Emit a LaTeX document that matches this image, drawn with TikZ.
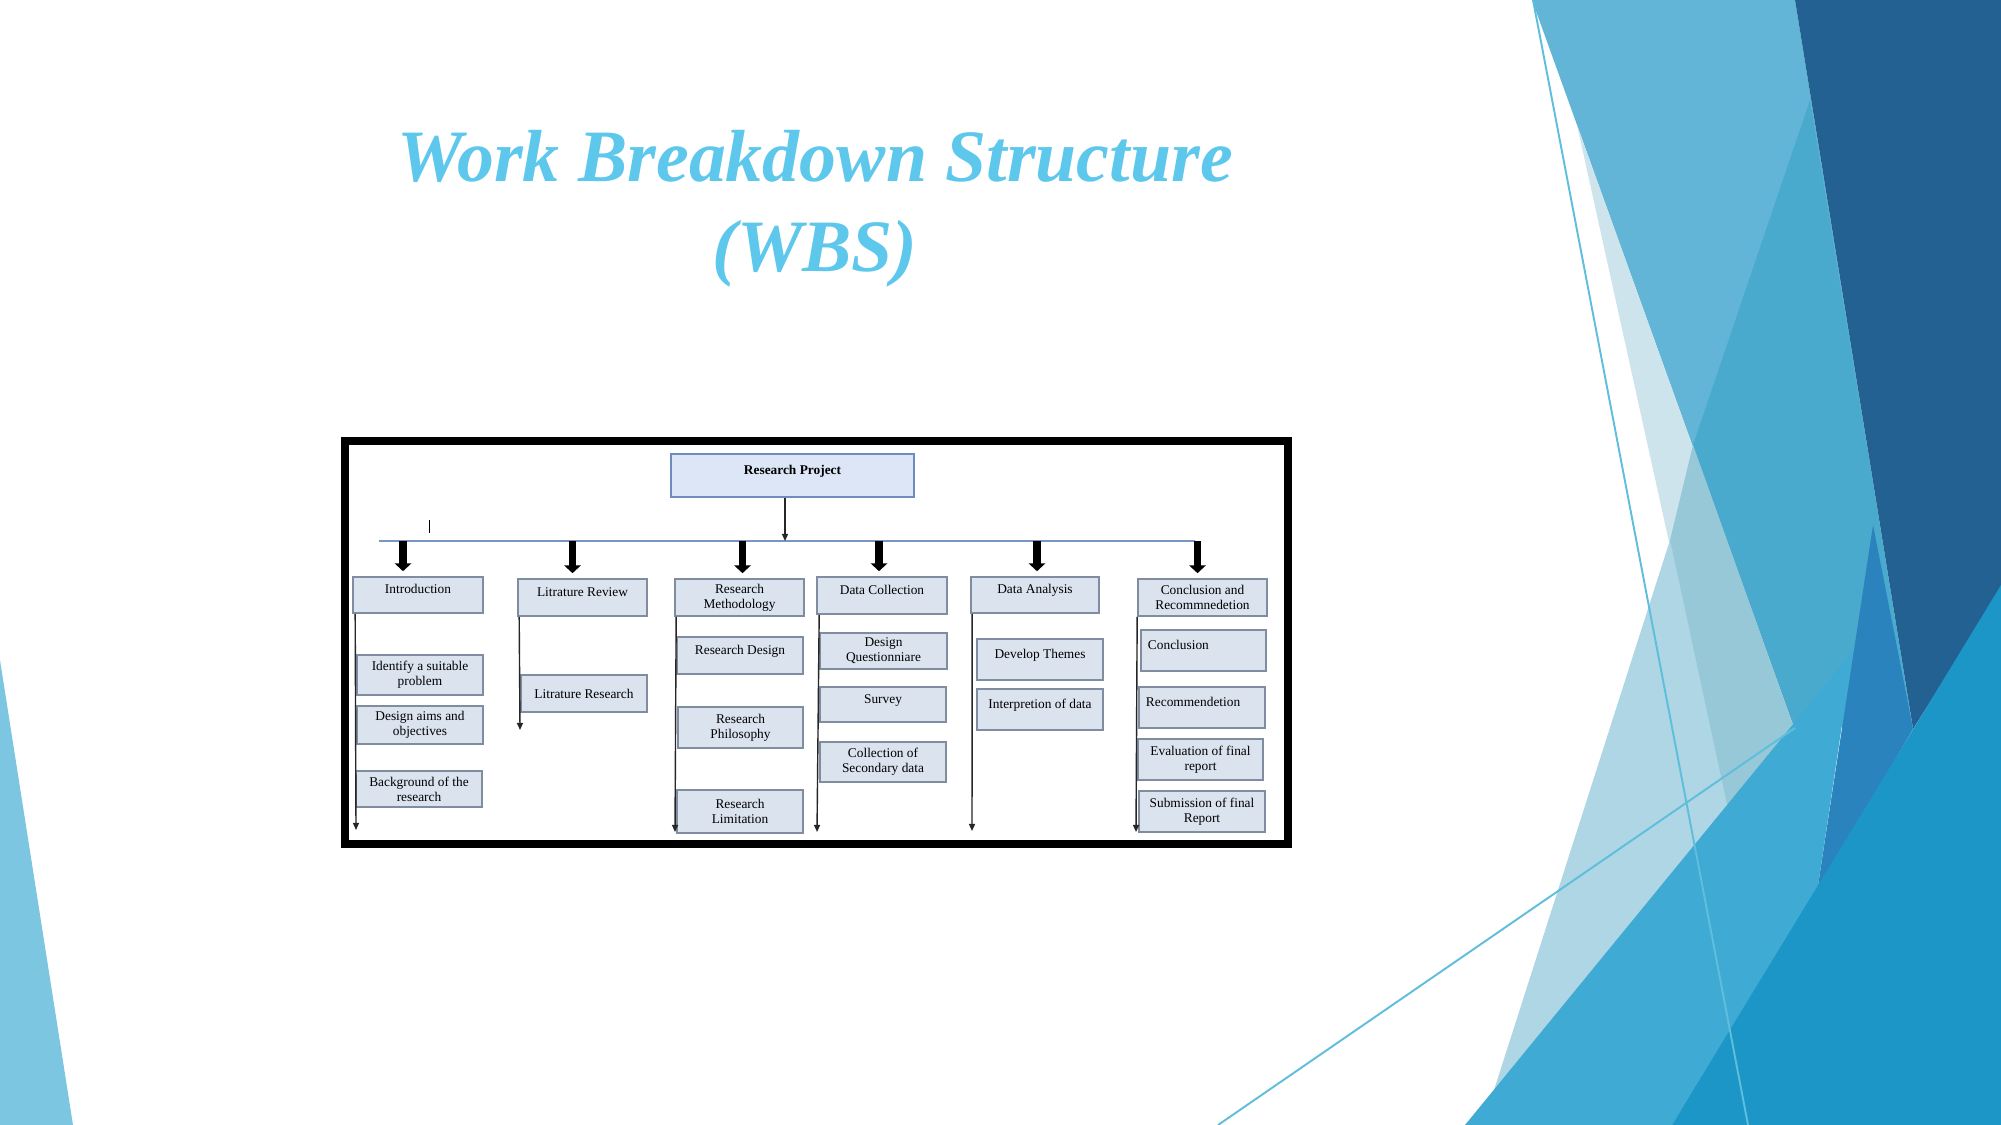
\documentclass[tikz,border=0pt]{standalone}
\usepackage{fontspec}
\setmainfont{Liberation Serif}
\usetikzlibrary{arrows.meta, calc}

\definecolor{titleblue}{RGB}{94,199,236}
\definecolor{boxfill}{RGB}{219,227,239}
\definecolor{boxline}{RGB}{128,140,160}
\definecolor{projfill}{RGB}{221,230,246}
\definecolor{projline}{RGB}{110,140,190}
\definecolor{barblue}{RGB}{120,150,195}
\definecolor{facetlight}{RGB}{98,181,214}
\definecolor{facetdark}{RGB}{34,97,146}
\definecolor{facetmid}{RGB}{73,170,205}
\definecolor{facetpale}{RGB}{205,228,237}
\definecolor{facetpaleb}{RGB}{174,214,228}
\definecolor{facetpaleab}{RGB}{150,200,216}
\definecolor{facetband}{RGB}{63,170,212}
\definecolor{facetteal}{RGB}{27,150,199}
\definecolor{facetmed}{RGB}{43,131,190}
\definecolor{facetsliver}{RGB}{125,198,226}
\definecolor{facetline}{RGB}{95,190,220}

\begin{document}
\begin{tikzpicture}[x=0.01cm, y=-0.01cm,
  wbox/.style={draw=boxline, fill=boxfill, line width=0.45pt, inner sep=0pt,
    align=center, font=\fontsize{3.8}{4.3}\selectfont},
  lbox/.style={wbox, align=left, inner xsep=0.07cm, text width=#1},
  uptext/.style={text height=2.7pt, text depth=3.5pt},
  projbox/.style={wbox, draw=projline, fill=projfill, font=\fontsize{3.8}{4.3}\selectfont\bfseries},
  thinarrow/.style={line width=0.4pt, draw=black!85, -{Triangle[length=2pt,width=1.7pt]}},
  bigarrow/.style={line width=2.2pt, -{Triangle[length=2.2pt,width=4.6pt]}},
  titletext/.style={font=\fontsize{21}{26}\selectfont\bfseries\itshape, text=titleblue, inner sep=0pt},
  thinline/.style={draw=facetline, line width=0.55pt},
]
  \useasboundingbox (0,0) rectangle (2001,1125);

  % background facets
  \fill[facetsliver] (0,660) -- (73,1125) -- (0,1125) -- cycle;
  \fill[facetlight] (1532,0) -- (1795,0) -- (1913,729) -- (1793,725) -- cycle;
  \fill[facetdark] (1795,0) -- (2001,0) -- (2001,589) -- (1913,729) -- cycle;
  \fill[facetmid] (1810,100) -- (1693,445) -- (1793,725) -- (1913,729) -- cycle;
  \fill[facetpale] (1577,125) -- (1727,805) -- (1793,725) -- cycle;
  \fill[facetpaleb] (1670,540) -- (1494,1090) -- (1727,805) -- cycle;
  \fill[facetpaleab] (1693,445) -- (1670,540) -- (1727,805) -- (1793,725) -- cycle;
  \fill[facetband] (1465,1125) -- (1853,651) -- (1817,892) -- (1672,1125) -- cycle;
  \fill[facetmed] (1873,525) -- (1913,729) -- (1817,892) -- cycle;
  \fill[facetteal] (2001,585) -- (2001,1125) -- (1672,1125) -- cycle;
  \draw[thinline] (1533,0) -- (1748,1125);
  \draw[thinline] (1218,1125) -- (1795,728);

  % title
  \node[titletext, anchor=base] (title) at (815,182) {Work Breakdown Structure};
  \node[titletext, anchor=base] (wbs) at (815,272) {(WBS)};

  % frame of the chart
  \draw[line width=0.08cm, fill=white] (345,441) rectangle (1288,844);

  \node[projbox, minimum width=2.43cm, minimum height=0.43cm, uptext] (proj) at (792.5,475.5) {Research Project};

  % first level
  \node[wbox, minimum width=1.30cm, minimum height=0.36cm, uptext] (intro) at (418,595) {Introduction};
  \node[wbox, minimum width=1.29cm, minimum height=0.37cm, uptext] (litrev) at (582.5,597.5) {Litrature Review};
  \node[wbox, minimum width=1.29cm, minimum height=0.37cm] (method) at (739.5,597.5) {Research\\Methodology};
  \node[wbox, minimum width=1.30cm, minimum height=0.37cm, uptext] (datacol) at (882,595.5) {Data Collection};
  \node[wbox, minimum width=1.28cm, minimum height=0.36cm, uptext] (analysis) at (1035,595) {Data Analysis};
  \node[wbox, minimum width=1.29cm, minimum height=0.37cm] (concl) at (1202.5,597.5) {Conclusion and\\Recommnedetion};

  % second level
  \node[wbox, minimum width=1.26cm, minimum height=0.40cm] (ident) at (420,675) {Identify a suitable\\problem};
  \node[wbox, minimum width=1.26cm, minimum height=0.38cm] (aims) at (420,725) {Design aims and\\objectives};
  \node[wbox, minimum width=1.26cm, minimum height=0.36cm] (backg) at (419,789) {Background of the\\research};
  \node[wbox, minimum width=1.26cm, minimum height=0.37cm] (litres) at (584,693.5) {Litrature Research};
  \node[wbox, minimum width=1.26cm, minimum height=0.37cm, uptext] (design) at (740,655.5) {Research Design};
  \node[wbox, minimum width=1.25cm, minimum height=0.41cm] (philo) at (740.5,727.5) {Research\\Philosophy};
  \node[wbox, minimum width=1.26cm, minimum height=0.43cm] (limit) at (740,811.5) {Research\\Limitation};
  \node[wbox, minimum width=1.27cm, minimum height=0.36cm] (quest) at (883.5,651) {Design\\Questionniare};
  \node[wbox, minimum width=1.26cm, minimum height=0.35cm, uptext] (survey) at (883,704.5) {Survey};
  \node[wbox, minimum width=1.26cm, minimum height=0.40cm] (second) at (883,762) {Collection of\\Secondary data};
  \node[wbox, minimum width=1.26cm, minimum height=0.41cm, uptext] (themes) at (1040,659.5) {Develop Themes};
  \node[wbox, minimum width=1.26cm, minimum height=0.41cm, uptext] (interp) at (1040,709.5) {Interpretion of data};
  \node[lbox=1.11cm, minimum height=0.41cm, uptext] (concla) at (1203.5,650.5) {Conclusion};
  \node[lbox=1.12cm, minimum height=0.41cm, uptext] (recom) at (1202,707.5) {Recommendetion};
  \node[wbox, minimum width=1.25cm, minimum height=0.41cm] (evalr) at (1200.5,759.5) {Evaluation of final\\report};
  \node[wbox, minimum width=1.26cm, minimum height=0.41cm] (submit) at (1202,811.5) {Submission of final\\Report};

  % bar and arrows
  \coordinate (barL) at (379,541);
  \coordinate (barR) at (1195,541);
  \draw[draw=barblue, line width=0.4pt] (barL) -- (barR);
  \draw[line width=0.25pt] (429,520) -- (429,533);
  \coordinate (projfoot) at ($(proj.south)+(-7.5,0)$);
  \draw[thinarrow] (projfoot) -- (projfoot |- barL);
  \foreach \n/\dx in {intro/-15, litrev/-10, method/3, datacol/-3, analysis/2, concl/-5} {
    \coordinate (a\n) at ($(\n.north)+(\dx,-5)$);
    \draw[bigarrow] (a\n |- barL) -- (a\n);
  }
  \foreach \n/\dx/\ex/\ey in {intro/3/356/830, litrev/2/520/730, method/2/675/832,
      datacol/3/817/832, analysis/2/972/831, concl/0/1136/832} {
    \coordinate (e\n) at (\ex,\ey);
    \draw[thinarrow] ($(\n.south west)+(\dx,0)$) -- (e\n);
  }
\end{tikzpicture}
\end{document}
